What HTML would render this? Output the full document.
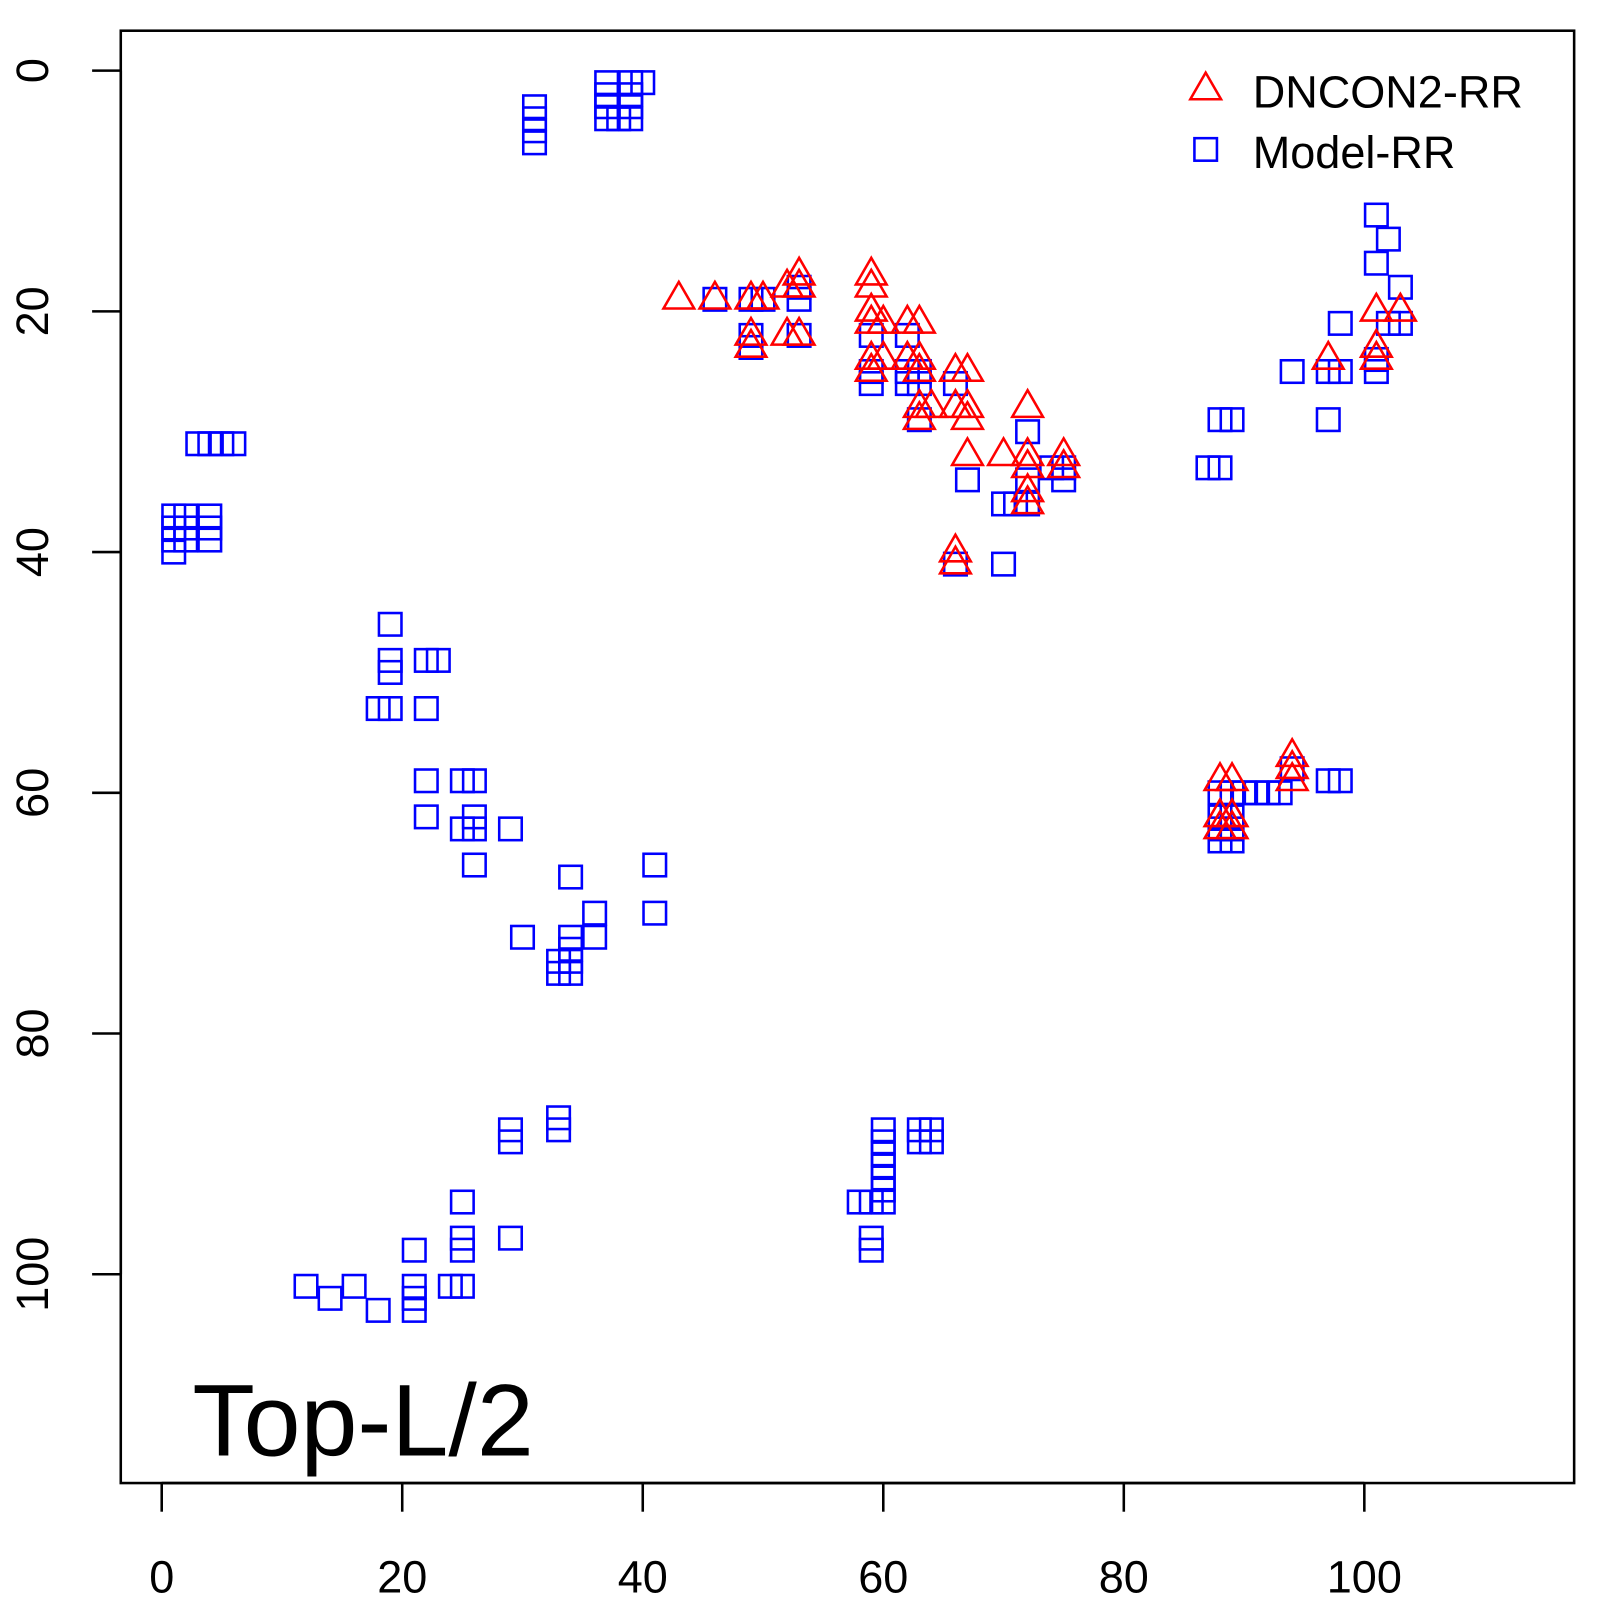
<!DOCTYPE html>
<html><head><meta charset="utf-8"><style>
html,body{margin:0;padding:0;background:#fff;}
svg text{font-family:"Liberation Sans",sans-serif;}
</style></head><body>
<svg id="chart" width="1600" height="1600" viewBox="0 0 1600 1600" xmlns="http://www.w3.org/2000/svg">
<g transform="scale(1.0235)">
<rect x="118" y="30" width="1420" height="1419" fill="none" stroke="#000" stroke-width="2.5"/>
<g id="xaxis"></g>
<g id="yaxis"></g>
<g id="marks"></g>
<g>
<polygon points="1178,71 1163,97 1193,97" fill="none" stroke="#f00" stroke-width="2.5"/>
<text x="1224" y="105" font-size="44">DNCON2-RR</text>
<rect x="1167" y="135" width="22" height="22" fill="none" stroke="#00f" stroke-width="2.5"/>
<text x="1224" y="164" font-size="44">Model-RR</text>
</g>
<text x="188" y="1422" font-size="100">Top-L/2</text>
</g>
</svg>
<script>
const xTicks=[0,20,40,60,80,100];
const yTicks=[0,20,40,60,80,100];
const squareX=[31,31,31,31,37,39,40,37,39,37,39,37,38,39,
3,4,5,6,1,1,1,1,2,2,2,4,4,4,
19,19,19,22,23,18,19,22,22,25,26,22,25,26,26,26,29,
34,36,36,34,30,33,34,33,34,34,41,41,29,29,33,33,
25,25,25,29,21,21,21,21,24,25,12,14,16,18,
60,60,60,60,60,60,60,59,58,59,59,63,64,63,64,
101,102,101,103,98,102,103,101,101,94,97,98,97,88,89,87,88,
97,98,94,90,91,92,93,88,89,88,89,88,89,88,89,
46,49,50,49,49,53,53,53,59,59,59,62,62,63,62,63,63,66,72,67,72,72,70,71,74,75,75,66,70];
const squareY=[3,4,5,6,1,1,1,2,2,3,3,4,4,4,
31,31,31,31,37,38,39,40,37,38,39,37,38,39,
46,49,50,49,49,53,53,53,59,59,59,62,63,62,63,66,63,
67,70,72,72,72,74,74,75,75,73,66,70,88,89,87,88,
94,97,98,97,98,101,102,103,101,101,101,102,101,103,
88,89,90,91,92,93,94,94,94,97,98,88,88,89,89,
12,14,16,18,21,21,21,24,25,25,25,25,29,29,29,33,33,
59,59,58,60,60,60,60,60,60,62,62,63,63,64,64,
19,19,19,22,23,18,19,22,22,25,26,22,25,25,26,26,29,26,30,34,34,36,36,36,33,33,34,41,41];
const triX=[43,46,49,50,49,49,52,53,53,52,53,59,59,59,59,60,59,60,59,62,63,62,63,63,63,64,63,66,67,66,67,67,67,72,70,72,72,72,72,75,75,66,66,
97,101,103,101,101,94,94,94,88,89,88,89,88,89];
const triY=[19,19,19,19,22,23,18,17,18,22,22,17,18,20,21,21,24,24,25,21,21,24,24,25,28,28,29,25,25,28,28,29,32,28,32,32,33,35,36,32,33,40,41,
24,20,20,23,24,57,58,59,59,59,62,62,63,63];
const NS="http://www.w3.org/2000/svg";
const sx=v=>158+v*11.75, sy=v=>69+v*11.76;
function mk(t,a,p){const e=document.createElementNS(NS,t);for(const k in a)e.setAttribute(k,a[k]);p.appendChild(e);return e;}
const xa=document.getElementById('xaxis'), ya=document.getElementById('yaxis'), mg=document.getElementById('marks');
mk('line',{x1:sx(0),x2:sx(100),y1:1449,y2:1449,stroke:'#000','stroke-width':2.5},xa);
xTicks.forEach(v=>{
 const l=mk('line',{x1:sx(v),x2:sx(v),y1:1449,y2:1477,stroke:'#000','stroke-width':2.5},xa);
 
 
 const t=mk('text',{x:sx(v),y:1556,'font-size':44,'text-anchor':'middle'},xa);t.textContent=v;
 
 
});
mk('line',{x1:118,x2:118,y1:sy(0),y2:sy(100),stroke:'#000','stroke-width':2.5},ya);
yTicks.forEach(v=>{
 const l=mk('line',{x1:90,x2:118,y1:sy(v),y2:sy(v),stroke:'#000','stroke-width':2.5},ya);
 
 
 const t=mk('text',{x:0,y:0,'font-size':44,'text-anchor':'middle',transform:`translate(47,${sy(v)}) rotate(-90)`},ya);t.textContent=v;
 
 
});
squareX.forEach((x,i)=>{
 const r=mk('rect',{x:sx(x)-11,y:sy(squareY[i])-11,width:22,height:22,fill:'none',stroke:'#00f','stroke-width':2.5},mg);
 
 
});
triX.forEach((x,i)=>{
 const cx=sx(x), cy=sy(triY[i]);
 const p=mk('polygon',{points:`${cx},${cy-17} ${cx-15},${cy+9} ${cx+15},${cy+9}`,fill:'none',stroke:'#f00','stroke-width':2.5},mg);
 
 
});
</script>
</body></html>
